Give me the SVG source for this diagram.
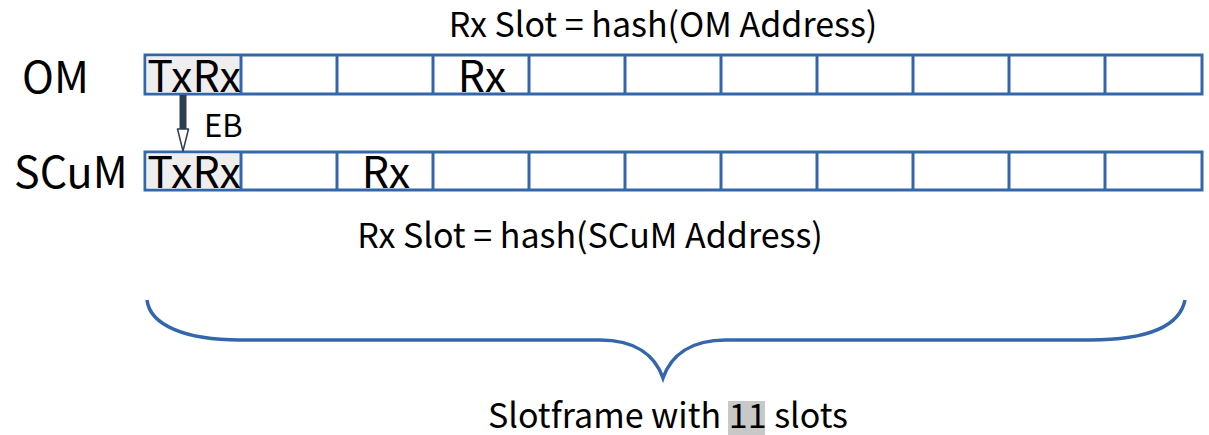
<svg xmlns="http://www.w3.org/2000/svg" width="1209" height="435" viewBox="0 0 1209 435">
<style>
.cell{fill:#ffffff;stroke:#3366AA;stroke-width:3}
.hl{fill:#EEEEEE}
.t{font-family:"Noto Sans CJK SC","Liberation Sans",sans-serif;fill:#000}
.big{font-size:43px}
.mid{font-size:34px}
.sm{font-size:31px}
</style>
<rect width="1209" height="435" fill="#fff"/>
<g id="title-om"><text class="t mid" x="663" y="37" text-anchor="middle">Rx Slot = hash(OM Address)</text></g>
<g id="label-om"><text class="t big" x="22" y="93">OM</text></g>
<g id="label-scum"><text class="t big" x="14" y="188">SCuM</text></g>
<g id="row-om">
<rect class="cell" x="145" y="55" width="1057" height="39"/>
<rect class="hl" x="146.5" y="56.5" width="93" height="36"/>
<path d="M241 55V94M337 55V94M433 55V94M529 55V94M625 55V94M721 55V94M817 55V94M913 55V94M1009 55V94M1105 55V94" stroke="#3366AA" stroke-width="3" fill="none"/>
<text class="t big" x="194" y="92" text-anchor="middle">TxRx</text>
<text class="t big" x="482" y="92" text-anchor="middle">Rx</text>
</g>
<g id="row-scum">
<rect class="cell" x="145" y="152" width="1057" height="38"/>
<rect class="hl" x="146.5" y="153.5" width="93" height="35"/>
<path d="M241 152V190M337 152V190M433 152V190M529 152V190M625 152V190M721 152V190M817 152V190M913 152V190M1009 152V190M1105 152V190" stroke="#3366AA" stroke-width="3" fill="none"/>
<text class="t big" x="194" y="188" text-anchor="middle">TxRx</text>
<text class="t big" x="386" y="188" text-anchor="middle">Rx</text>
</g>
<g id="connectors">
<line x1="183" y1="95" x2="183" y2="129" stroke="#2C3E50" stroke-width="7"/>
<path d="M177.5 129 L188.5 129 L183 151 Z" fill="#fff" stroke="#2C3E50" stroke-width="1.5" stroke-linejoin="round"/>
<text class="t sm" x="204" y="137">EB</text>
</g>
<g id="title-scum"><text class="t mid" x="590" y="248" text-anchor="middle">Rx Slot = hash(SCuM Address)</text></g>
<g id="brace">
<path d="M147 300 C150 325 185 340 240 340 L600 340 C635 340 655 355 663 378 C671 355 691 340 726 340 L1090 340 C1150 340 1180 325 1185 300" fill="none" stroke="#3366AA" stroke-width="3.5"/>
</g>
<g id="caption">
<rect x="728" y="401" width="37" height="34" fill="#C8C8C8"/>
<text class="t mid" x="668" y="428" text-anchor="middle">Slotframe with 11 slots</text>
</g>
</svg>
